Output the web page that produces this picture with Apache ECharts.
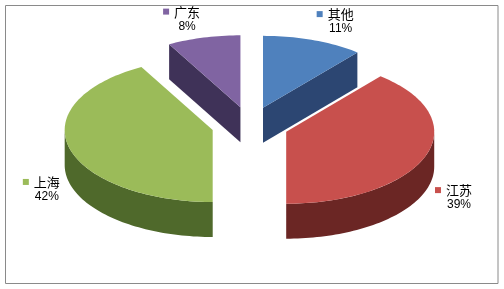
<!DOCTYPE html>
<html>
<head>
<meta charset="utf-8">
<script src="https://cdn.jsdelivr.net/npm/echarts@6/dist/echarts.min.js"></script>
<style>
  html, body { margin: 0; padding: 0; background: #fff; }
  #chart { width: 504px; height: 289px; }
</style>
</head>
<body>
<div id="chart"></div>
<script>
// Regional shares, clockwise from 12 o'clock
const categories = ['其他', '江苏', '上海', '广东'];
const values = [11, 39, 42, 8];
const topColors = ['#4F81BD', '#C8504D', '#9BBB59', '#8064A2'];
const sideColors = ['#2C4672', '#6B2624', '#4F692B', '#3F3258'];

const total = values.reduce((s, v) => s + v, 0);

// Tilted, exploded 3D pie drawn slice by slice
function renderSlice(params, api) {
  const i = params.dataIndex;
  const W = api.getWidth(), H = api.getHeight();
  const cx = W * 0.496, cy = H * 0.434;
  const rx = W * 0.2937, ry = H * 0.249;
  const depth = H * 0.121;
  const explode = 0.26;

  let before = 0;
  for (let j = 0; j < i; j++) before += values[j];
  const a = before / total * Math.PI * 2;
  const b = (before + api.value(0)) / total * Math.PI * 2;
  const m = (a + b) / 2;

  const ox = explode * rx * Math.sin(m);
  const oy = -explode * ry * Math.cos(m);
  const rim = (t, d) => [cx + ox + rx * Math.sin(t), cy + oy - ry * Math.cos(t) + d];
  const arc = (t0, t1, d) => {
    const n = Math.max(2, Math.ceil((t1 - t0) / (Math.PI / 120)));
    const pts = [];
    for (let k = 0; k <= n; k++) pts.push(rim(t0 + (t1 - t0) * k / n, d));
    return pts;
  };
  const apex = [cx + ox, cy + oy];
  const apexLow = [cx + ox, cy + oy + depth];
  const children = [];
  const side = sideColors[i];

  // curved outer wall, front half only
  const f0 = Math.max(a, Math.PI / 2), f1 = Math.min(b, Math.PI * 1.5);
  if (f1 > f0) {
    children.push({
      type: 'polygon', z2: 1,
      shape: { points: arc(f0, f1, 0).concat(arc(f0, f1, depth).reverse()) },
      style: { fill: side }
    });
  }
  // radial walls facing the viewer
  if (Math.sin(a) < -1e-6) {
    children.push({
      type: 'polygon', z2: 1,
      shape: { points: [apex, rim(a, 0), rim(a, depth), apexLow] },
      style: { fill: side }
    });
  }
  if (Math.sin(b) > 1e-6) {
    children.push({
      type: 'polygon', z2: 1,
      shape: { points: [apex, rim(b, 0), rim(b, depth), apexLow] },
      style: { fill: side }
    });
  }
  // top face
  children.push({
    type: 'polygon', z2: 2,
    shape: { points: [apex].concat(arc(a, b, 0)) },
    style: { fill: topColors[i] }
  });

  // data label: legend key + name, percentage below
  const anchor = rim(m, 0);
  const rightSide = Math.sin(m) >= 0;
  const back = Math.cos(m) > 0;
  const nameW = 26, keyW = 6, gap = 5;
  const blockW = keyW + gap + nameW;
  const pad = back ? 3.5 : 9.5;
  const left = rightSide ? anchor[0] + pad : anchor[0] - pad - blockW;
  const nameY = back ? anchor[1] - 26 : anchor[1] + depth - 1;
  const pct = Math.round(api.value(0) / total * 100) + '%';
  children.push({
    type: 'rect', z2: 3,
    shape: { x: left, y: nameY - 3, width: keyW, height: keyW },
    style: { fill: topColors[i] }
  });
  children.push({
    type: 'text', z2: 3,
    style: {
      text: categories[i], x: left + keyW + gap, y: nameY,
      fill: '#000', font: '13px "Noto Sans CJK SC"',
      align: 'left', verticalAlign: 'middle'
    }
  });
  children.push({
    type: 'text', z2: 3,
    style: {
      text: pct, x: left + keyW + gap + nameW / 2, y: nameY + 15,
      fill: '#000', font: '12px "Liberation Sans", Arial',
      align: 'center', verticalAlign: 'middle'
    }
  });

  return { type: 'group', children: children };
}

const chart = echarts.init(document.getElementById('chart'), null, { renderer: 'canvas' });
chart.setOption({
  animation: false,
  backgroundColor: '#fff',
  graphic: [{
    type: 'rect', silent: true,
    shape: { x: 5.5, y: 5.5, width: 492.5, height: 278 },
    style: { fill: null, stroke: '#8a8a8a', lineWidth: 1 }
  }],
  series: [{
    type: 'custom',
    coordinateSystem: 'none',
    renderItem: renderSlice,
    data: values.map((v, i) => ({ name: categories[i], value: [v] }))
  }]
});
</script>
</body>
</html>
